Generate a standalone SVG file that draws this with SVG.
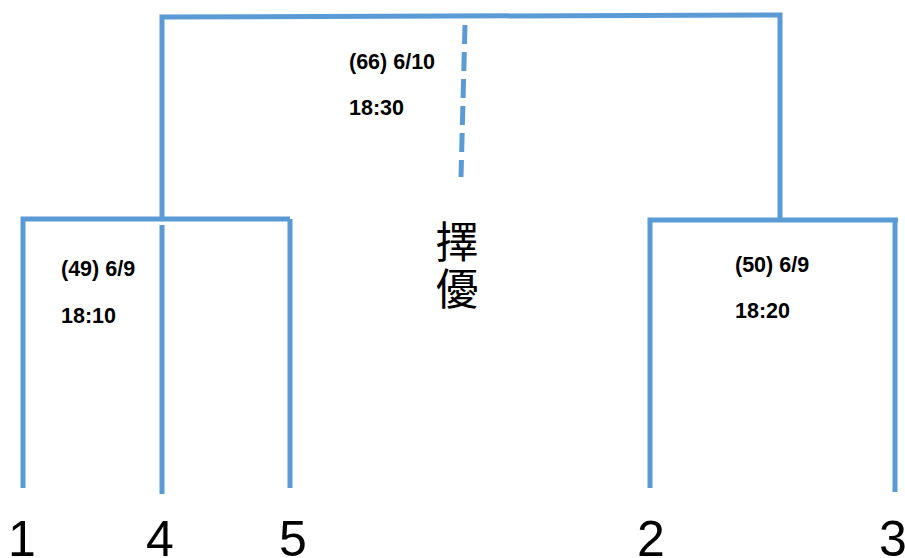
<svg xmlns="http://www.w3.org/2000/svg" width="905" height="558" viewBox="0 0 905 558">
<style>
.ln{stroke:#5B9BD5;stroke-width:5;fill:none;stroke-linecap:butt}
.dash{stroke-dasharray:19 8}
.lbl{font-family:"Liberation Sans",Arial,sans-serif;font-weight:bold;font-size:21.5px;fill:#000}
.num{font-family:"Liberation Sans",Arial,sans-serif;font-size:50px;fill:#000;text-anchor:middle}
.cjk{font-family:"Noto Sans CJK TC","Noto Sans CJK SC",sans-serif;font-size:43px;fill:#000;text-anchor:middle}
</style>
<rect width="905" height="558" fill="#fff"/>
<g id="connectors">
<path class="ln" d="M162,217 V17 L780,15 V218"/>
<path class="ln dash" d="M465,25 L461,177"/>
<path class="ln" d="M23,488 V219 H290"/>
<path class="ln" d="M162,225 V494"/>
<path class="ln" d="M290,219 V488"/>
<path class="ln" d="M650,488 V220 H898"/>
<path class="ln" d="M895,220 V492"/>
</g>
<g id="match66">
<text class="lbl" x="349" y="69">(66) 6/10</text>
<text class="lbl" x="349" y="115">18:30</text>
</g>
<g id="match49">
<text class="lbl" x="61" y="276">(49) 6/9</text>
<text class="lbl" x="61" y="323">18:10</text>
</g>
<g id="match50">
<text class="lbl" x="735" y="272">(50) 6/9</text>
<text class="lbl" x="735" y="318">18:20</text>
</g>
<g id="winner">
<text class="cjk" x="457" y="258">擇</text>
<text class="cjk" x="457" y="305">優</text>
</g>
<g id="team1"><text class="num" x="22" y="556">1</text></g>
<g id="team4"><text class="num" x="160" y="556">4</text></g>
<g id="team5"><text class="num" x="293" y="556">5</text></g>
<g id="team2"><text class="num" x="651" y="556">2</text></g>
<g id="team3"><text class="num" x="893" y="556">3</text></g>
</svg>
